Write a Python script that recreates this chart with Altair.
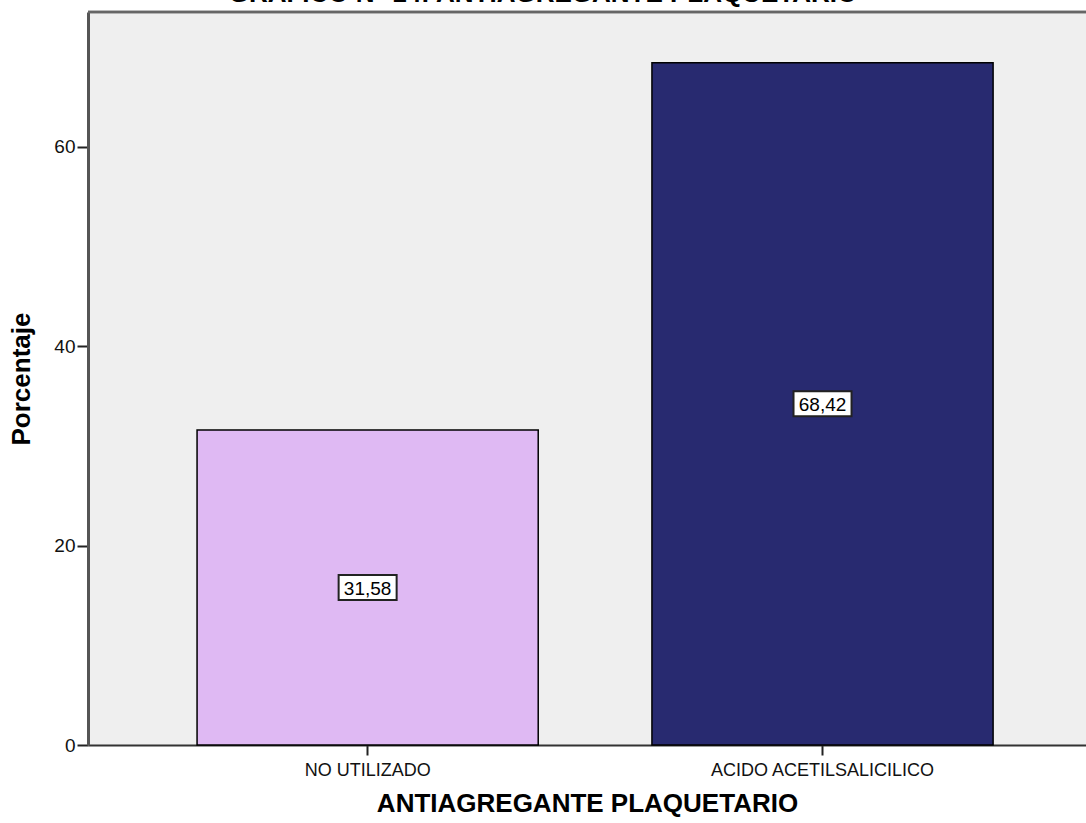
import altair as alt
import pandas as pd

# Antiplatelet agent usage (percent of patients)
categories = ["NO UTILIZADO", "ACIDO ACETILSALICILICO"]
percentages = [31.58, 68.42]
bar_colors = ["#dfb9f3", "#282a70"]
y_ticks = [0, 20, 40, 60]

df = pd.DataFrame({
    "grupo": categories,
    "pct": percentages,
    "etiqueta": [f"{v:.2f}".replace(".", ",") for v in percentages],
})

FONT = "Liberation Sans"
PLOT_W, PLOT_H = 998, 733

x_enc = alt.X(
    "grupo:N",
    sort=categories,
    scale=alt.Scale(paddingInner=0.25, paddingOuter=0.222, align=0.54),
    axis=alt.Axis(
        title="ANTIAGREGANTE PLAQUETARIO",
        labelAngle=0,
        labelFontSize=18,
        labelLimit=0,
        labelPadding=6,
        labelColor="#111",
        tickSize=10,
        tickWidth=2,
        tickColor="#222",
        domainColor="#333",
        domainWidth=2,
        titleFontSize=26,
        titleFontWeight="bold",
        titlePadding=11,
        titleColor="#000",
    ),
)

y_scale = alt.Scale(domain=[0, 73.5], nice=False)

bars = alt.Chart(df).mark_bar(stroke="#000", strokeWidth=1.5).encode(
    x=x_enc,
    y=alt.Y(
        "pct:Q",
        scale=y_scale,
        axis=alt.Axis(
            title="Porcentaje",
            values=y_ticks,
            labelFontSize=19,
            labelPadding=2,
            labelColor="#111",
            tickSize=11,
            tickWidth=2,
            tickColor="#222",
            domainColor="#555",
            domainWidth=3,
            titleFontSize=26,
            titleFontWeight="bold",
            titlePadding=19,
            titleColor="#000",
            grid=False,
        ),
    ),
    color=alt.Color("grupo:N", scale=alt.Scale(domain=categories, range=bar_colors), legend=None),
)

# value boxes centred halfway up each bar
boxes = alt.Chart(df).transform_calculate(mid="datum.pct / 2").mark_point(
    shape="M-1,-0.431L1,-0.431L1,0.431L-1,0.431Z",
    size=58 * 58,
    filled=True,
    fill="white",
    opacity=1,
    stroke="#222",
    strokeWidth=2,
).encode(
    x=alt.X("grupo:N", sort=categories),
    y=alt.Y("mid:Q", scale=y_scale),
)

labels = alt.Chart(df).transform_calculate(mid="datum.pct / 2").mark_text(
    font=FONT, fontSize=19, color="#000", baseline="middle", align="center", dy=1
).encode(
    x=alt.X("grupo:N", sort=categories),
    y=alt.Y("mid:Q", scale=y_scale),
    text="etiqueta:N",
)

# top frame line of the plot area
top_border = alt.Chart(df).mark_rule(color="#666", strokeWidth=2.5).encode(
    x=alt.value(0), x2=alt.value(PLOT_W), y=alt.value(0)
)

# chart heading, sitting above the frame
heading = alt.Chart(pd.DataFrame({"t": ["GRAFICO N° 14: ANTIAGREGANTE PLAQUETARIO"]})).mark_text(
    font=FONT, fontSize=26, fontWeight="bold", color="#000", align="center", baseline="alphabetic"
).encode(
    x=alt.value(455), y=alt.value(-10.5), text="t:N"
)

chart = alt.layer(bars, boxes, labels, top_border, heading).properties(
    width=PLOT_W,
    height=PLOT_H,
    autosize=alt.AutoSizeParams(type="none"),
    padding={"left": 88, "top": 12, "right": 0, "bottom": 78},
    background="white",
).configure(
    font=FONT
).configure_view(
    fill="#efefef", stroke=None
)

chart.save("out.html", embed_options={"renderer": "svg", "actions": False})
